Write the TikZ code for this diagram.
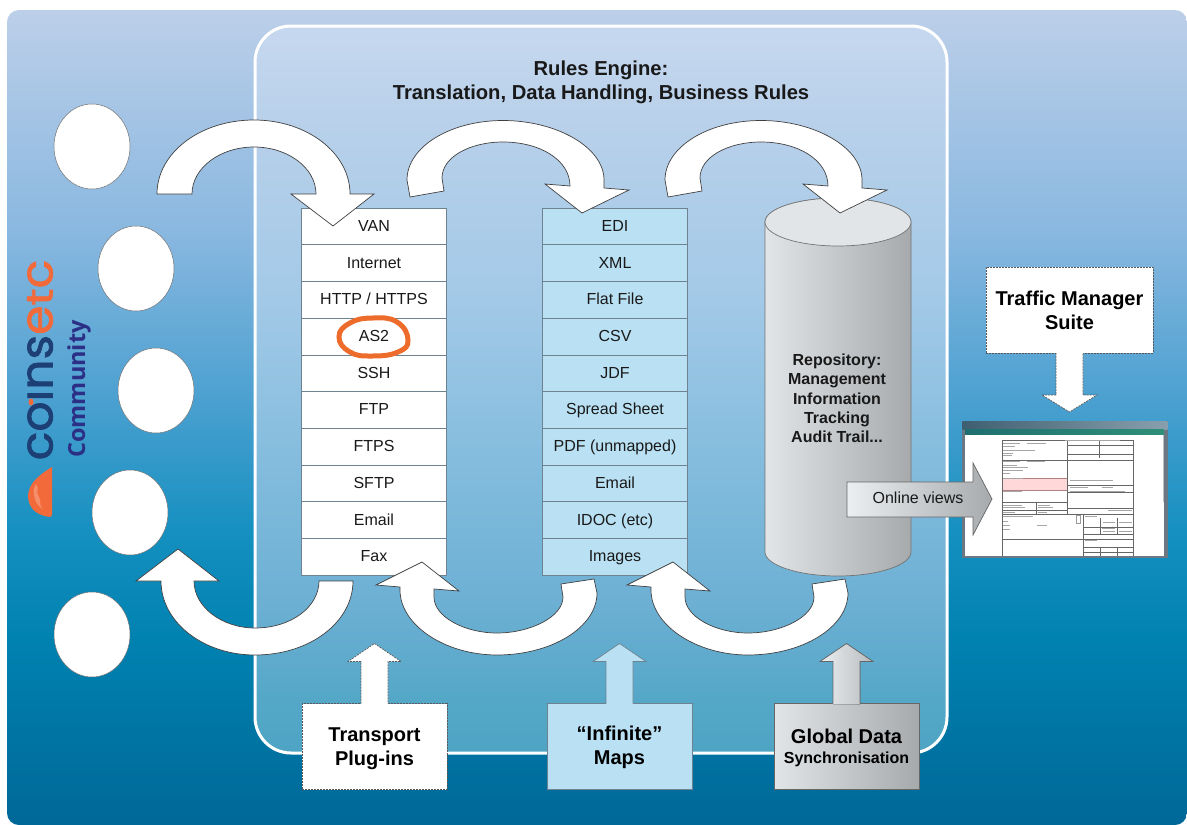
\documentclass[tikz,border=0pt]{standalone}
\usepackage{fontspec}
\setmainfont{Liberation Sans}
\newfontfamily\logofont[FakeBold=1.6,FakeStretch=1.05]{Poppins}
\newfontfamily\commfont{Open Sans}
\usetikzlibrary{calc,shapes.geometric}
\definecolor{bgA}{HTML}{BCCFE9}\definecolor{bgB}{HTML}{8AB8E0}\definecolor{bgC}{HTML}{4AA0D0}
\definecolor{bgD}{HTML}{1590C0}\definecolor{bgE}{HTML}{0082B0}\definecolor{bgF}{HTML}{006898}
\definecolor{paA}{HTML}{C6D8EF}\definecolor{paB}{HTML}{B8D0EA}\definecolor{paC}{HTML}{A2C9E7}
\definecolor{paD}{HTML}{7DB9DB}\definecolor{paE}{HTML}{6DB0D4}\definecolor{paF}{HTML}{54A7C7}\definecolor{paG}{HTML}{4EA4C4}
\definecolor{rowblue}{HTML}{B9E1F3}
\definecolor{rule}{HTML}{6F8290}
\definecolor{ringor}{HTML}{EE6C2B}
\definecolor{logoblue}{HTML}{1C3F75}
\definecolor{commblue}{HTML}{2B2F86}
\definecolor{logoor}{HTML}{F26A3A}
\definecolor{greyL}{HTML}{E2E5E7}\definecolor{greyR}{HTML}{A6AAAD}\definecolor{greyX}{HTML}{ECEFF1}\definecolor{greyM}{HTML}{B8BBBE}
\definecolor{barA}{HTML}{3F5F70}\definecolor{barB}{HTML}{88A0AE}\definecolor{barC}{HTML}{1F6F70}\definecolor{barD}{HTML}{2F8F78}\definecolor{frame}{HTML}{6B7883}
\pgfdeclareverticalshading{bgshade}{100bp}{color(0bp)=(bgF);color(25bp)=(bgF);color(36.35bp)=(bgE);color(43bp)=(bgD);color(51bp)=(bgC);color(61.5bp)=(bgB);color(75bp)=(bgA);color(100bp)=(bgA)}
\pgfdeclareverticalshading{pashade}{100bp}{color(0bp)=(paG);color(25bp)=(paG);color(28.5bp)=(paF);color(35.5bp)=(paE);color(42.5bp)=(paD);color(56bp)=(paC);color(68bp)=(paB);color(75bp)=(paA);color(100bp)=(paA)}
\tikzset{
  fs/.style={font=\fontsize{16}{19}\selectfont},
  fb/.style={font=\fontsize{20}{24}\selectfont\bfseries,align=center},
  rowbase/.style={draw=rule,line width=.7pt,minimum width=145pt,minimum height=36.7pt,inner sep=0pt,outer sep=0pt,fs,text=black!90,text height=13pt,text depth=3pt},
  whiterow/.style={rowbase,fill=white},
  bluerow/.style={rowbase,fill=rowblue},
  bubble/.style={draw=black!55,line width=.5pt,fill=white,ellipse,minimum width=76pt,minimum height=85pt,inner sep=0pt},
  curved/.style={draw=black!75,line width=.7pt,fill=white,line join=miter},
  dashbox/.style={draw=black!65,line width=.7pt,dash pattern=on 2pt off 1pt,fill=white,minimum width=145pt,minimum height=86pt,inner sep=0pt,outer sep=0pt,fb},
  blubox/.style={draw=rule,line width=.7pt,fill=rowblue,minimum width=145pt,minimum height=86pt,inner sep=0pt,outer sep=0pt,fb},
  grybox/.style={draw=black!60,line width=.7pt,left color=greyL,right color=greyR,minimum width=145pt,minimum height=86pt,inner sep=0pt,outer sep=0pt,fb},
  formline/.style={draw=black!60,line width=.3pt},
  formtext/.style={draw=black!35,line width=.5pt},
}
% up-pointing block arrow on top of a box, open at its foot
\newcommand\blockup[3]{%
  \fill[#1] ([xshift=-13.5pt]#3.north) -- ++(0,-42) -- ++(-13,0) -- ++(26.5,-18) -- ++(26.5,18) -- ++(-13,0) -- ++(0,42) -- ++(0,1) -- ++(-27,0) -- cycle;
  \draw[#2] ([xshift=-13.5pt]#3.north) -- ++(0,-42) -- ++(-13,0) -- ++(26.5,-18) -- ++(26.5,18) -- ++(-13,0) -- ++(0,42);}
\begin{document}
\begin{tikzpicture}[x=1pt,y=-1pt]
\useasboundingbox (0,0) rectangle (1187,825);
\fill[white] (0,0) rectangle (1187,825);
\shade[shading=bgshade,rounded corners=12pt] (7,10) rectangle (1187,825);
\shade[shading=pashade,rounded corners=36pt] (255,26) rectangle (947,753);
\draw[white,line width=3pt,rounded corners=36pt] (255,26) rectangle (947,753);

% title
\node[font=\fontsize{20.2}{24}\selectfont\bfseries,align=center,text=black!90] (title) at (601,82) {Rules Engine:\\Translation, Data Handling, Business Rules};

% community bubbles
\node[bubble] (b1) at (92,146.5) {};
\node[bubble] (b2) at (136,268.5) {};
\node[bubble] (b3) at (156,390.5) {};
\node[bubble] (b4) at (130,512.5) {};
\node[bubble] (b5) at (92,634.5) {};

% logo
\fill[logoor] (52,467) .. controls (42,473) and (29,482) .. (28,495) .. controls (28,505) and (33,515) .. (50,517) -- (52,515) -- cycle;
\fill[logoor!75!white] (36,484) .. controls (40,488) and (35,492) .. (39,497) .. controls (42,501) and (38,505) .. (43,509) .. controls (36,505) and (35,500) .. (34,495) .. controls (33,490) and (34,487) .. (36,484) -- cycle;
\node[rotate=90,anchor=base,font=\logofont\fontsize{45}{45}\selectfont,inner sep=0pt] (logo) at (52.5,360) {\textcolor{logoblue}{co{\char"0131}ns}\textcolor{logoor}{e\scalebox{1}[.82]{t}c}};
\fill[logoor] (31,402) ellipse [x radius=2.5,y radius=3.5];
\node[rotate=90,anchor=base,font=\commfont\fontsize{23.5}{23.5}\selectfont\bfseries,text=commblue,inner sep=0pt] (comm) at (85,389) {Community};

% left column
\node[whiterow] (t1) at (374,226.4) {VAN};
\node[whiterow] (t2) at (374,263.1) {Internet};
\node[whiterow] (t3) at (374,299.8) {HTTP / HTTPS};
\node[whiterow] (t4) at (374,336.5) {AS2};
\node[whiterow] (t5) at (374,373.2) {SSH};
\node[whiterow] (t6) at (374,409.9) {FTP};
\node[whiterow] (t7) at (374,446.6) {FTPS};
\node[whiterow] (t8) at (374,483.3) {SFTP};
\node[whiterow] (t9) at (374,520) {Email};
\node[whiterow] (t10) at (374,556.7) {Fax};
% middle column
\node[bluerow] (f1) at (615,226.4) {EDI};
\node[bluerow] (f2) at (615,263.1) {XML};
\node[bluerow] (f3) at (615,299.8) {Flat File};
\node[bluerow] (f4) at (615,336.5) {CSV};
\node[bluerow] (f5) at (615,373.2) {JDF};
\node[bluerow] (f6) at (615,409.9) {Spread Sheet};
\node[bluerow] (f7) at (615,446.6) {PDF (unmapped)};
\node[bluerow] (f8) at (615,483.3) {Email};
\node[bluerow] (f9) at (615,520) {IDOC (etc)};
\node[bluerow] (f10) at (615,556.7) {Images};

% AS2 ring
\draw[ringor,line width=5pt] plot[smooth cycle,tension=.8] coordinates {(339,337) (350,323) (373,318) (397,322) (408,340) (398,352) (372,356) (350,352)};

% cylinder
\draw[draw=black!55,line width=.7pt,left color=greyL,right color=greyR] (765,222) -- (765,552) .. controls (765,565) and (798,576) .. (838,576) .. controls (878,576) and (911,565) .. (911,552) -- (911,222) .. controls (911,209) and (878,198) .. (838,198) .. controls (798,198) and (765,209) .. (765,222) -- cycle;
\draw[draw=black!55,line width=.7pt,fill=greyL] (838,222) ellipse [x radius=73,y radius=24];
\node[font=\fontsize{16}{19.3}\selectfont\bfseries,align=center,text=black!90] (repo) at (837,398.5) {Repository:\\Management\\Information\\Tracking\\Audit Trail...};

% curved arrows, top
\draw[curved] (157,194) .. controls (157,153) and (200,120) .. (254,120) .. controls (307,120) and (350,153) .. (350,194) -- (374,194) -- (333,226) -- (291,194) -- (316,194) .. controls (316,168) and (288,147) .. (254,147) .. controls (220,147) and (192,168) .. (192,194) -- cycle;
\foreach \sx in {0,258}{
\begin{scope}[shift={(\sx,0)}]
\draw[curved] (410,197) -- (407,180) .. controls (407,147) and (450,120.5) .. (503,120.5) .. controls (556,120.5) and (604,147) .. (604,180) -- (604,188) -- (629,190) -- (582,213) -- (545,184) -- (570,186) .. controls (570,160) and (540,142) .. (503,142) .. controls (470,142) and (442,157) .. (442,178) -- (444,191) -- cycle;
\end{scope}}
% curved arrows, bottom
\draw[curved] (353,581) .. controls (353,622) and (310,655) .. (255,655) .. controls (203,655) and (161,622) .. (161,581) -- (136,581) -- (178,549) -- (219,581) -- (194,581) .. controls (194,607) and (222,628) .. (255,628) .. controls (291,628) and (319,607) .. (319,581) -- cycle;
\foreach \sx in {0,251}{
\begin{scope}[shift={(\sx,0)}]
\draw[curved] (594,579) -- (597,593) .. controls (597,627) and (552,655) .. (497,655) .. controls (445,655) and (400,625) .. (400,590) -- (400,587) -- (376,585) -- (422,562) -- (459,591) -- (434,589) -- (434,597) .. controls (434,617) and (465,633) .. (497,633) .. controls (530,633) and (563,617) .. (563,597) -- (561,584) -- cycle;
\end{scope}}

% bottom boxes and their arrows
\node[dashbox] (tp) at (374.5,746.5) {\rule{0pt}{19pt}Transport\\Plug-ins};
\node[blubox] (im) at (619.5,746.5) {\rule{0pt}{16.5pt}“Infinite”\\Maps};
\node[grybox] (gd) at (846.5,746.5) {\rule{0pt}{16.5pt}Global Data\\[-4pt]{\fontsize{16}{19}\selectfont Synchronisation}};
\blockup{white}{draw=black!65,line width=.7pt,dash pattern=on 2pt off 1pt}{tp}
\blockup{rowblue}{draw=rule,line width=.7pt}{im}
\blockup{left color=greyX,right color=greyM}{draw=black!60,line width=.7pt}{gd}

% traffic manager
\node[dashbox,minimum width=167pt] (tm) at (1069.5,310) {Traffic Manager\\Suite};
\fill[white] ([xshift=-13.5pt]tm.south) -- ++(0,42) -- ++(-14,0) -- ++(27.5,17) -- ++(27.5,-17) -- ++(-14,0) -- ++(0,-42) -- cycle;
\draw[draw=black!65,line width=.7pt,dash pattern=on 2pt off 1pt] ([xshift=-13.5pt]tm.south) -- ++(0,42) -- ++(-14,0) -- ++(27.5,17) -- ++(27.5,-17) -- ++(-14,0) -- ++(0,-42);

% screenshot (zoomed coordinates)
\begin{scope}[shift={(960,415)},x=.3333pt,y=-.3333pt]
\fill[frame] (5,18) rectangle (625,430);
\shade[left color=barA,right color=barB] (8,20) rectangle (622,42);
\shade[left color=barC,right color=barD] (15,42) rectangle (612,60);
\fill[white] (15,60) rectangle (612,424);
\fill[red!15] (130,190) rectangle (320,225);
\draw[draw=red!40!black!50,line width=.4pt] (127,190) rectangle (322,225);
\draw[formline] (125,75) -- (520,75);
\draw[formline] (125,75) -- (125,424) (520,75) -- (520,424);
\foreach \a in {135,298,372}{\draw[formline] (125,\a) -- (520,\a);}
\draw[formline] (322,75) -- (322,298) (418,75) -- (418,130) (370,298) -- (370,424);
\draw[formline] (322,90) -- (520,90) (322,118) -- (520,118) (322,210) -- (520,210) (322,230) -- (520,230) (322,280) -- (520,280);
\draw[formline] (125,262) -- (322,262) (125,285) -- (322,285) (228,262) -- (228,298);
\draw[formline] (370,335) -- (520,335) (370,358) -- (520,358) (370,395) -- (520,395) (370,412) -- (520,412) (420,310) -- (420,358) (470,310) -- (470,358) (420,395) -- (420,424) (470,395) -- (470,424);
\draw[formtext] (130,85)--(180,85) (130,95)--(165,95) (130,105)--(225,105) (130,115)--(160,115) (130,122)--(155,122) (200,85)--(258,85);
\draw[formtext] (130,140)--(180,140) (130,150)--(170,150) (130,158)--(205,158) (130,166)--(190,166) (130,175)--(150,175) (200,138)--(255,138) (130,190)--(190,190);
\draw[formtext] (130,228)--(185,228) (130,270)--(185,270) (130,278)--(195,278) (130,292)--(165,292) (235,270)--(270,270) (235,278)--(280,278) (235,292)--(260,292) (130,303)--(220,303);
\draw[formtext] (130,320)--(145,320) (130,332)--(150,332) (130,342)--(150,342) (232,330)--(262,330) (315,75)--(480,75) (330,195)--(460,195) (330,218)--(385,218) (425,218)--(460,218) (330,228)--(495,228) (445,285)--(515,285);
\draw[formtext] (375,305)--(410,305) (428,322)--(465,322) (478,322)--(515,322) (428,348)--(465,348) (478,348)--(515,348) (375,375)--(410,375) (425,340)--(465,340);
\draw[draw=black!40,line width=.5pt] (350,300) rectangle (362,325);
\fill[black!25] (608,60) rectangle (612,260);
\end{scope}

% online views
\shade[draw=black!60,line width=.7pt,left color=greyX,right color=greyR] (847,482) -- (973,482) -- (973,463) -- (992,499) -- (973,535) -- (973,517) -- (847,517) -- cycle;
\node[fs,text=black!90] (ov) at (918,498) {Online views};
\end{tikzpicture}
\end{document}
